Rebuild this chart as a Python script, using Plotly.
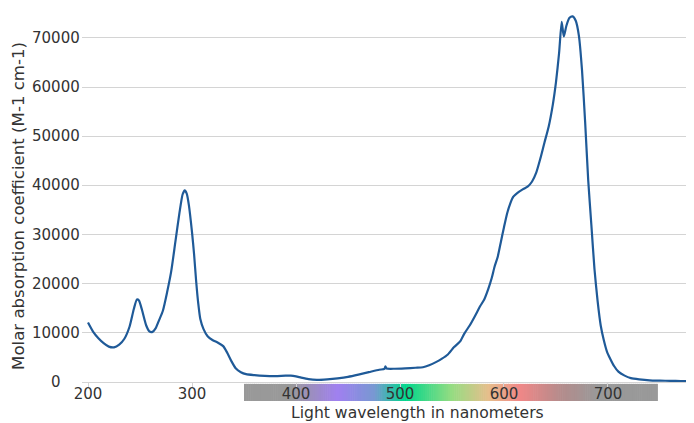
import plotly.graph_objects as go

# ---- data ----
wavelength = [200, 205, 210, 215, 220, 225, 230, 235, 240, 244, 247, 249, 252, 256, 259, 262, 265, 268, 272,
              276, 280, 284, 288, 291, 293, 295, 297, 300, 302, 304, 306, 308, 311, 315, 320, 325, 330,
              334, 338, 342, 347, 352, 360, 370, 380, 390, 395, 400, 405, 412, 420, 430, 440, 450, 460,
              470, 480, 485, 486, 487, 495, 505, 515, 522, 528, 535, 540, 546, 552, 558, 562, 567, 572,
              577, 581, 585, 588, 591, 594, 597, 600, 603, 606, 609, 613, 618, 623, 627, 631, 635, 639,
              643, 647, 650, 653, 655.5, 657.5, 660, 663, 666, 669, 672, 675, 678, 681, 684, 687, 690,
              693, 696, 699, 702, 706, 710, 716, 722, 730, 740, 750, 760, 770, 780, 790]
absorption = [12100, 10200, 8900, 7900, 7200, 7050, 7600, 8800, 11300, 14800, 16800, 16600, 14600, 11500,
              10300, 10200, 10900, 12400, 14500, 18200, 22500, 28500, 34500, 38200, 39000, 38300, 36000, 30500,
              26000, 20500, 16000, 12800, 10800, 9300, 8500, 8000, 7300, 5900, 4200, 2800, 2000, 1600,
              1400, 1250, 1200, 1300, 1300, 1150, 900, 600, 450, 550, 750, 1050, 1500, 2000, 2500, 2650,
              3200, 2750, 2700, 2780, 2900, 3000, 3400, 4100, 4700, 5600, 7100, 8300, 9900, 11500, 13400,
              15400, 16800, 19000, 21000, 23500, 25500, 28500, 31500, 34300, 36300, 37700, 38500, 39200,
              39800, 40800, 42600, 45500, 48800, 52000, 56500, 61000, 67000, 73300, 70300, 72500, 74100,
              74400, 73500, 70500, 63500, 53000, 41000, 32000, 23000, 16500, 11500, 8500, 6200, 4800,
              3200, 2100, 1300, 800, 550, 350, 280, 230, 200, 180, 200]
y_ticks = [0, 10000, 20000, 30000, 40000, 50000, 60000, 70000]
x_ticks = [200, 300, 400, 500, 600, 700]
band_start, band_end = 350, 748  # visible-spectrum band, nm

# ---- styling ----
FONT = "DejaVu Sans"
TEXT = "#333333"
GRID = "#d4d4d4"
stops = [(350, (153, 153, 153)), (395, (153, 153, 153)), (440, (160, 128, 240)), (475, (120, 152, 210)),
         (505, (0, 214, 140)), (550, (150, 220, 130)), (585, (230, 190, 140)), (615, (240, 135, 135)),
         (655, (180, 140, 140)), (690, (153, 153, 153)), (750, (153, 153, 153))]


def color_at(w):
    for (w0, c0), (w1, c1) in zip(stops[:-1], stops[1:]):
        if w0 <= w <= w1:
            t = (w - w0) / (w1 - w0)
            return "rgb(%d,%d,%d)" % tuple(round(a + (b - a) * t) for a, b in zip(c0, c1))
    return "rgb(153,153,153)"


fig = go.Figure()
fig.add_trace(go.Scatter(x=wavelength, y=absorption, mode="lines",
                         line=dict(color="#1f5a98", width=2.2, shape="spline", smoothing=0.6),
                         hoverinfo="x+y", showlegend=False))

# spectrum band under the x axis
shapes = []
step = 2
w = band_start
while w < band_end:
    shapes.append(dict(type="rect", xref="x", yref="paper", x0=w, x1=min(w + step + 0.6, band_end),
                       y0=-0.0509, y1=-0.005, fillcolor=color_at(w + step / 2),
                       line=dict(width=0), layer="below"))
    w += step

annotations = []
for v in y_ticks:
    annotations.append(dict(text=str(v), xref="paper", yref="y", x=-0.0425, y=v,
                            xanchor="center", yanchor="middle", showarrow=False,
                            font=dict(family=FONT, size=15, color=TEXT)))
annotations.append(dict(text="Molar absorption coefficient (M-1 cm-1)", xref="paper", yref="paper",
                        x=-0.104, y=0.473, textangle=-90, xanchor="center", yanchor="middle",
                        showarrow=False, font=dict(family=FONT, size=16.6, color=TEXT)))
annotations.append(dict(text="Light wavelength in nanometers", xref="paper", yref="paper",
                        x=0.549, y=-0.0831, xanchor="center", yanchor="middle",
                        showarrow=False, font=dict(family=FONT, size=15.6, color=TEXT)))

# the page body adds an 8px offset, so the figure is sized to fill the rest of the window
fig.update_layout(
    width=686, height=415,
    margin=dict(l=74, r=0, t=1, b=41),
    paper_bgcolor="white", plot_bgcolor="white",
    font=dict(family=FONT, size=15, color=TEXT),
    shapes=shapes, annotations=annotations,
    xaxis=dict(range=[194.23, 782.7], tickvals=x_ticks, ticktext=[str(t) for t in x_ticks],
               showgrid=False, zeroline=False, showline=True, linecolor=GRID, linewidth=1,
               ticks="outside", ticklen=4, tickcolor=GRID, ticklabelstandoff=-6,
               tickfont=dict(family=FONT, size=15, color=TEXT)),
    yaxis=dict(range=[0, 75900], tickvals=y_ticks, showticklabels=False,
               showgrid=True, gridcolor=GRID, gridwidth=1, zeroline=False, showline=False),
)

fig.write_html("out.html")
